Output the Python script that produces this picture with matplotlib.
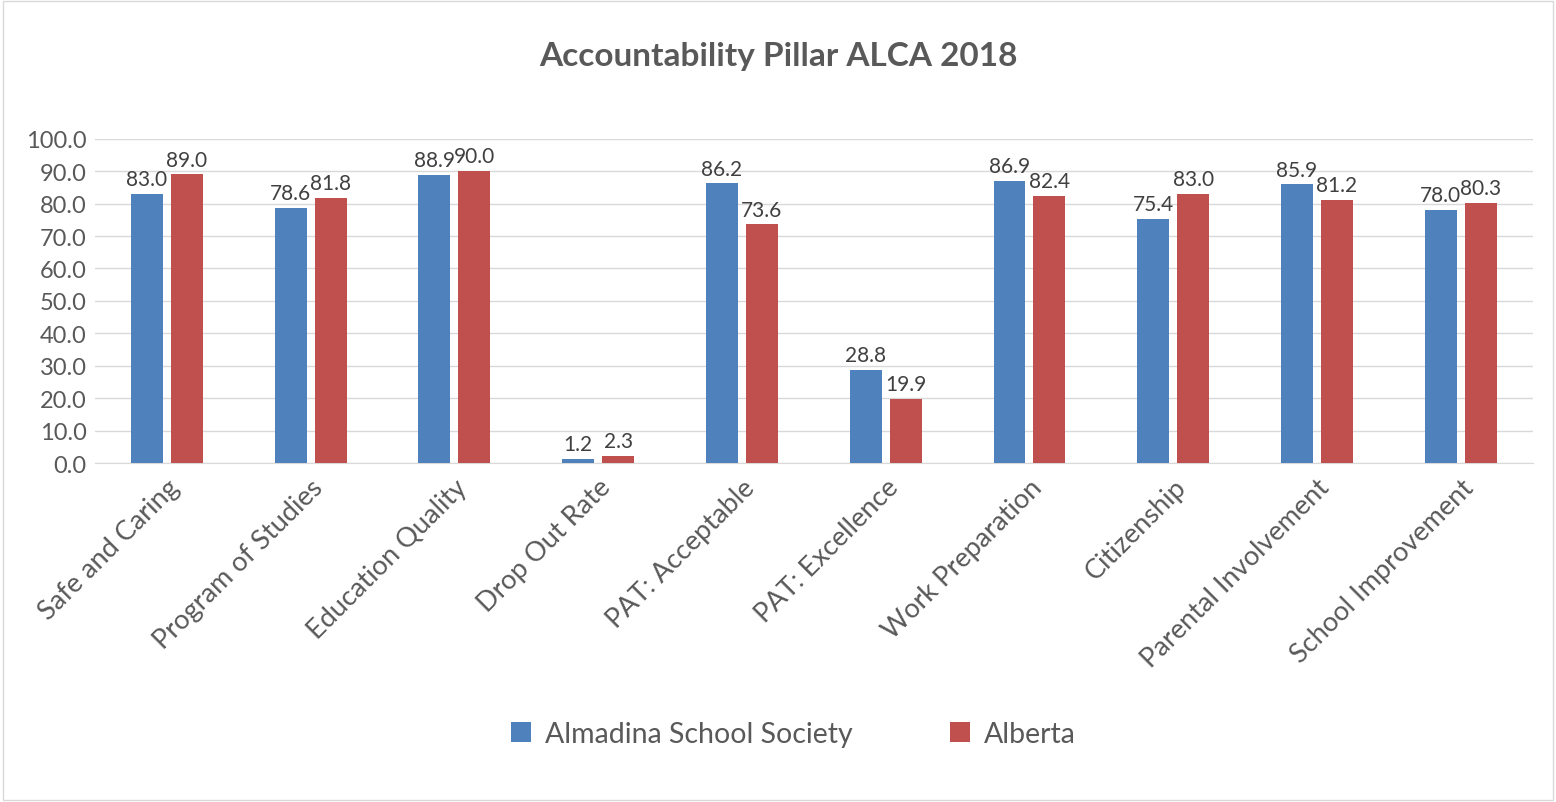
import matplotlib
matplotlib.use("Agg")
import matplotlib.pyplot as plt
import numpy as np
from matplotlib.patches import Rectangle

categories = ["Safe and Caring", "Program of Studies", "Education Quality", "Drop Out Rate",
              "PAT: Acceptable", "PAT: Excellence", "Work Preparation", "Citizenship",
              "Parental Involvement", "School Improvement"]
almadina = [83.0, 78.6, 88.9, 1.2, 86.2, 28.8, 86.9, 75.4, 85.9, 78.0]
alberta = [89.0, 81.8, 90.0, 2.3, 73.6, 19.9, 82.4, 83.0, 81.2, 80.3]
series_names = ["Almadina School Society", "Alberta"]
yticks = [0, 10, 20, 30, 40, 50, 60, 70, 80, 90, 100]

plt.rcParams['font.family'] = ['Lato', 'DejaVu Sans']

fig = plt.figure(figsize=(15.56, 8.03), dpi=100)
ax = fig.add_axes([0.061, 0.422, 0.924, 0.404])

x = np.arange(len(categories))
w = 0.222
off = 0.139
b1 = ax.bar(x - off, almadina, w, color="#4F81BD", label=series_names[0], zorder=3)
b2 = ax.bar(x + off, alberta, w, color="#C0504D", label=series_names[1], zorder=3)

for bars, vals in ((b1, almadina), (b2, alberta)):
    for rect, v in zip(bars, vals):
        ax.text(rect.get_x() + rect.get_width() / 2, v + 1.5, f"{v:.1f}",
                ha="center", va="bottom", fontsize=15, color="#404040")

ax.set_xlim(-0.5, len(categories) - 0.5)
ax.set_ylim(0, 100)
ax.set_yticks(yticks)
ax.set_yticklabels([f"{t:.1f}" for t in yticks], fontsize=17, color="#595959")
ax.set_xticks(x)
ax.set_xticklabels(categories, rotation=45, ha="right", rotation_mode="anchor",
                   fontsize=19.5, color="#595959")
ax.tick_params(axis="both", length=0)
ax.tick_params(axis="x", pad=8)
ax.tick_params(axis="y", pad=6)
ax.grid(axis="y", color="#D9D9D9", linewidth=1, zorder=0)
for s in ["top", "right", "left"]:
    ax.spines[s].set_visible(False)
ax.spines["bottom"].set_color("#D9D9D9")

fig.text(0.5, 0.93, "Accountability Pillar ALCA 2018", ha="center", va="center",
         fontsize=24, fontweight="bold", color="#595959")

leg = fig.legend(loc="center", bbox_to_anchor=(0.51, 0.085), ncol=2, frameon=False,
                 fontsize=20.5, handlelength=0.7, handleheight=0.7, columnspacing=3.4,
                 handletextpad=0.5)
for t in leg.get_texts():
    t.set_color("#595959")

fig.patches.append(Rectangle((0.002, 0.003), 0.996, 0.994, transform=fig.transFigure,
                             fill=False, edgecolor="#D9D9D9", linewidth=1))

fig.savefig("out.png", dpi=100)
